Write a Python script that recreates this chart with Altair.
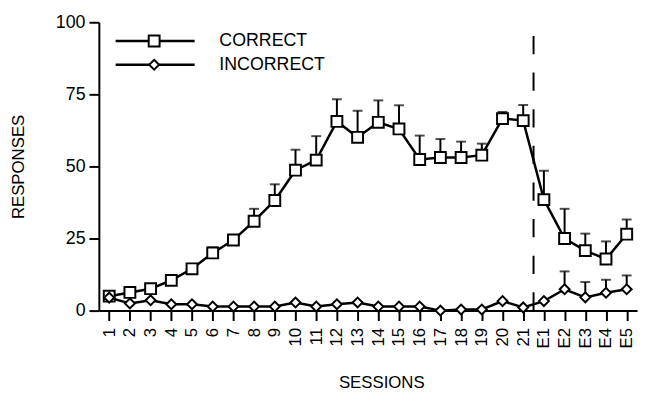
import altair as alt
import pandas as pd

sessions = [str(i) for i in range(1, 22)] + ["E1", "E2", "E3", "E4", "E5"]
correct = [5.0, 6.3, 7.6, 10.5, 14.5, 20.0, 24.5, 31.0, 38.2, 48.7, 52.2, 65.6, 60.1,
           65.3, 63.0, 52.4, 53.1, 53.1, 53.9, 66.6, 65.9, 38.5, 25.0, 20.8, 17.9, 26.5]
correct_hi = [5.0, 6.3, 7.6, 10.5, 14.5, 21.9, 25.8, 35.3, 43.8, 55.8, 60.5, 73.3, 69.3,
              72.9, 71.2, 60.7, 59.5, 58.6, 57.9, 68.9, 71.3, 48.5, 35.3, 26.7, 24.0, 31.6]
incorrect = [4.5, 2.5, 3.6, 2.2, 2.2, 1.4, 1.4, 1.4, 1.4, 2.8, 1.4, 2.2, 2.8,
             1.4, 1.4, 1.4, 0.0, 0.4, 0.4, 3.3, 1.1, 3.3, 7.4, 4.6, 6.2, 7.4]
incorrect_hi = [4.5, 2.5, 3.6, 2.2, 2.2, 1.4, 1.4, 1.4, 1.4, 2.8, 1.4, 2.2, 2.8,
                1.4, 1.4, 1.4, 0.0, 0.4, 0.4, 3.3, 1.1, 3.3, 13.6, 9.9, 10.7, 12.2]
y_ticks = [0, 25, 50, 75, 100]
divider_after = 21.5
legend_labels = ["CORRECT", "INCORRECT"]

idx = list(range(1, len(sessions) + 1))
df = pd.DataFrame({
    "idx": idx * 2,
    "session": sessions * 2,
    "series": ["CORRECT"] * len(idx) + ["INCORRECT"] * len(idx),
    "value": correct + incorrect,
    "hi": correct_hi + incorrect_hi,
})
df_err = df[df["hi"] > df["value"]]

label_array = "[" + ",".join("'" + s + "'" for s in sessions) + "]"

x_scale = alt.Scale(domain=[0.5, 26.5], nice=False, zero=False)
y_scale = alt.Scale(domain=[0, 100], nice=False)

x_axis = alt.Axis(values=idx, labelExpr=label_array + "[datum.value - 1]", grid=False,
                  tickSize=10, labelAngle=270, labelAlign="right", labelBaseline="middle",
                  labelPadding=7, labelFontSize=17, labelOverlap=False, labelFlush=False,
                  title="SESSIONS", titleFontSize=17,
                  titleFontWeight="normal", titleX=286, titleY=73, titleBaseline="middle",
                  titleAnchor="middle")
y_axis = alt.Axis(values=y_ticks, grid=False, tickSize=10, labelFontSize=18, labelPadding=4,
                  labelOverlap=False, labelFlush=False,
                  title="RESPONSES", titleFontSize=17, titleFontWeight="normal",
                  titleAngle=270, titleX=-81, titleY=146, titleBaseline="middle",
                  titleAnchor="middle")

xe = alt.X("idx:Q", scale=x_scale, axis=x_axis)
ye = alt.Y("value:Q", scale=y_scale, axis=y_axis)

lines = alt.Chart(df).mark_line(color="black", strokeWidth=2.5).encode(
    x=xe, y=ye, detail="series:N")

err_rule = alt.Chart(df_err).mark_rule(color="black", strokeWidth=2).encode(
    x=xe, y=ye, y2="hi:Q")
err_cap = alt.Chart(df_err).mark_tick(color="black", orient="horizontal", size=10,
                                      thickness=2).encode(
    x=xe, y=alt.Y("hi:Q", scale=y_scale, axis=y_axis))

pts_c = alt.Chart(df[df["series"] == "CORRECT"]).mark_point(
    shape="square", size=121, filled=True, fill="white", stroke="black", strokeWidth=2,
    opacity=1).encode(x=xe, y=ye)
pts_i = alt.Chart(df[df["series"] == "INCORRECT"]).mark_point(
    shape="diamond", size=100, filled=True, fill="white", stroke="black", strokeWidth=2,
    opacity=1).encode(x=xe, y=ye)

divider = alt.Chart(pd.DataFrame({"d": [divider_after]})).mark_rule(
    color="black", strokeWidth=2, strokeDash=[18.5, 18.6]).encode(
    x=alt.X("d:Q", scale=x_scale, axis=x_axis), y=alt.datum(0, scale=y_scale),
    y2=alt.datum(101.3))

one = pd.DataFrame({"a": [0]})
leg = []
for i, (lab, shp, sz) in enumerate(zip(legend_labels, ["square", "diamond"], [121, 100])):
    yy = 19 + 24 * i
    leg.append(alt.Chart(one).mark_rule(color="black", strokeWidth=2.5).encode(
        x=alt.value(17), x2=alt.value(97), y=alt.value(yy)))
    leg.append(alt.Chart(one).mark_point(shape=shp, size=sz, filled=True, fill="white",
                                         stroke="black", strokeWidth=2, opacity=1).encode(
        x=alt.value(56), y=alt.value(yy)))
    leg.append(alt.Chart(one).mark_text(align="left", baseline="middle", fontSize=18,
                                        font="Liberation Sans", color="black").encode(
        x=alt.value(122), y=alt.value(yy), text=alt.value(lab)))

chart = alt.layer(lines, err_rule, err_cap, divider, pts_c, pts_i, *leg).properties(
    width=545, height=292,
    autosize=alt.AutoSizeParams(type="none"),
    padding={"left": 92, "top": 12, "right": 4, "bottom": 82},
).configure_view(stroke=None).configure_axis(
    domainColor="black", domainWidth=2, tickColor="black", tickWidth=2,
    labelColor="black", titleColor="black", labelFont="Liberation Sans",
    titleFont="Liberation Sans", labelOverlap=False, labelFlush=False,
)

chart.save("out.html", embed_options={"renderer": "svg", "actions": False})
